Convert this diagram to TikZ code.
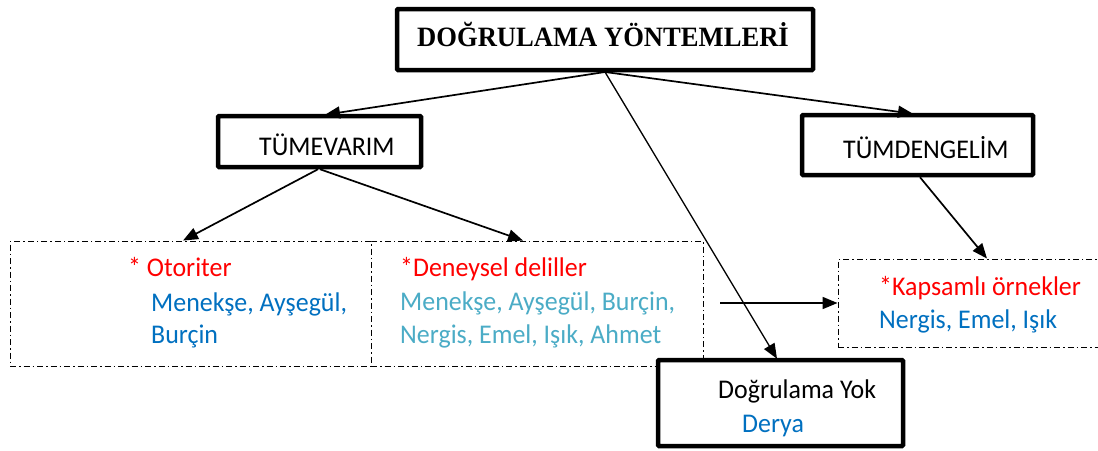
\documentclass[tikz,border=0pt]{standalone}
\usepackage{fontspec}
\setmainfont{Carlito}[FakeStretch=0.96]
\newfontfamily\titlefont{Liberation Serif}[FakeStretch=0.95]
\usetikzlibrary{arrows.meta,calc}
\definecolor{cred}{RGB}{255,0,0}
\definecolor{cblue}{RGB}{0,112,192}
\definecolor{caqua}{RGB}{75,172,198}
\begin{document}
\begin{tikzpicture}[x=1pt,y=-1pt,
  solidbox/.style={draw=black,line width=4.5pt,rounded corners=1pt,inner sep=0pt,fill=white},
  dashbox/.style={draw=black,line width=0.9pt,dash pattern=on 6pt off 3pt on 1.5pt off 3pt,inner sep=0pt},
  txt/.style={anchor=base west,inner sep=0pt,font=\fontsize{27}{30}\selectfont},
  arr/.style={line width=1.7pt,-{Triangle[length=15pt,width=12pt]}},
  thinarr/.style={line width=1.3pt,-{Triangle[length=15pt,width=12pt]}}]
\useasboundingbox (0,0) rectangle (1098,450);
\fill[white] (0,0) rectangle (1098,450);

% boxes
\node[dashbox,minimum width=361pt,minimum height=125pt] (lb) at (190.5,303.5) {};
\node[dashbox,minimum width=332pt,minimum height=125pt] (rb) at (537,303.5) {};
\node[dashbox,minimum width=272pt,minimum height=88pt] (kp) at (974,303) {};
\node[solidbox,minimum width=416pt,minimum height=61pt] (top) at (605,39.5) {};
\node[solidbox,minimum width=203pt,minimum height=51pt] (tv) at (319.5,141.5) {};
\node[solidbox,minimum width=231pt,minimum height=60pt] (td) at (917.5,145) {};

% texts
\node[anchor=base,inner sep=0pt,font=\titlefont\bfseries\fontsize{28}{30}\selectfont] (tt) at (603,46) {DOĞRULAMA YÖNTEMLERİ};
\node[txt] (tvt) at (259,155) {TÜMEVARIM};
\node[txt] (tdt) at (843,158) {TÜMDENGELİM};
\node[txt,text=cred] (ot) at (128,276) {* Otoriter};
\node[txt,text=cblue] (ot1) at (151,311) {Menekşe, Ayşegül,};
\node[txt,text=cblue] (ot2) at (151,343) {Burçin};
\node[txt,text=cred] (de) at (400,276) {*Deneysel deliller};
\node[txt,text=caqua] (de1) at (400,310) {Menekşe, Ayşegül, Burçin,};
\node[txt,text=caqua] (de2) at (400,343) {Nergis, Emel, Işık, Ahmet};
\node[txt,text=cred] (ka) at (879,295) {*Kapsamlı örnekler};
\node[txt,text=cblue] (ka1) at (879,328) {Nergis, Emel, Işık};

% arrows
\coordinate (o) at (605,72);
\coordinate (h) at (720,303);
\draw[arr] (o) -- ([xshift=5.5pt,yshift=-1pt]tv.north);
\draw[arr] (o) -- ([xshift=-4.5pt,yshift=-1pt]td.north);
\draw[arr] ([xshift=-1.5pt]tv.south) -- ([xshift=-7.5pt]lb.north);
\draw[arr] ([xshift=0.5pt]tv.south) -- ([xshift=-14pt]rb.north);
\draw[arr] ([xshift=2.5pt]td.south) -- ([xshift=13pt]kp.north);
\draw[arr] (h) -- (kp.west);

\node[solidbox,minimum width=245pt,minimum height=86pt] (dy) at (780.5,403) {};
\node[txt] (dyt) at (718,398) {Doğrulama Yok};
\node[txt,text=cblue] (dyt2) at (742,432) {Derya};
\draw[thinarr] (o) -- ([xshift=-3.5pt,yshift=-1pt]dy.north);
\end{tikzpicture}
\end{document}
